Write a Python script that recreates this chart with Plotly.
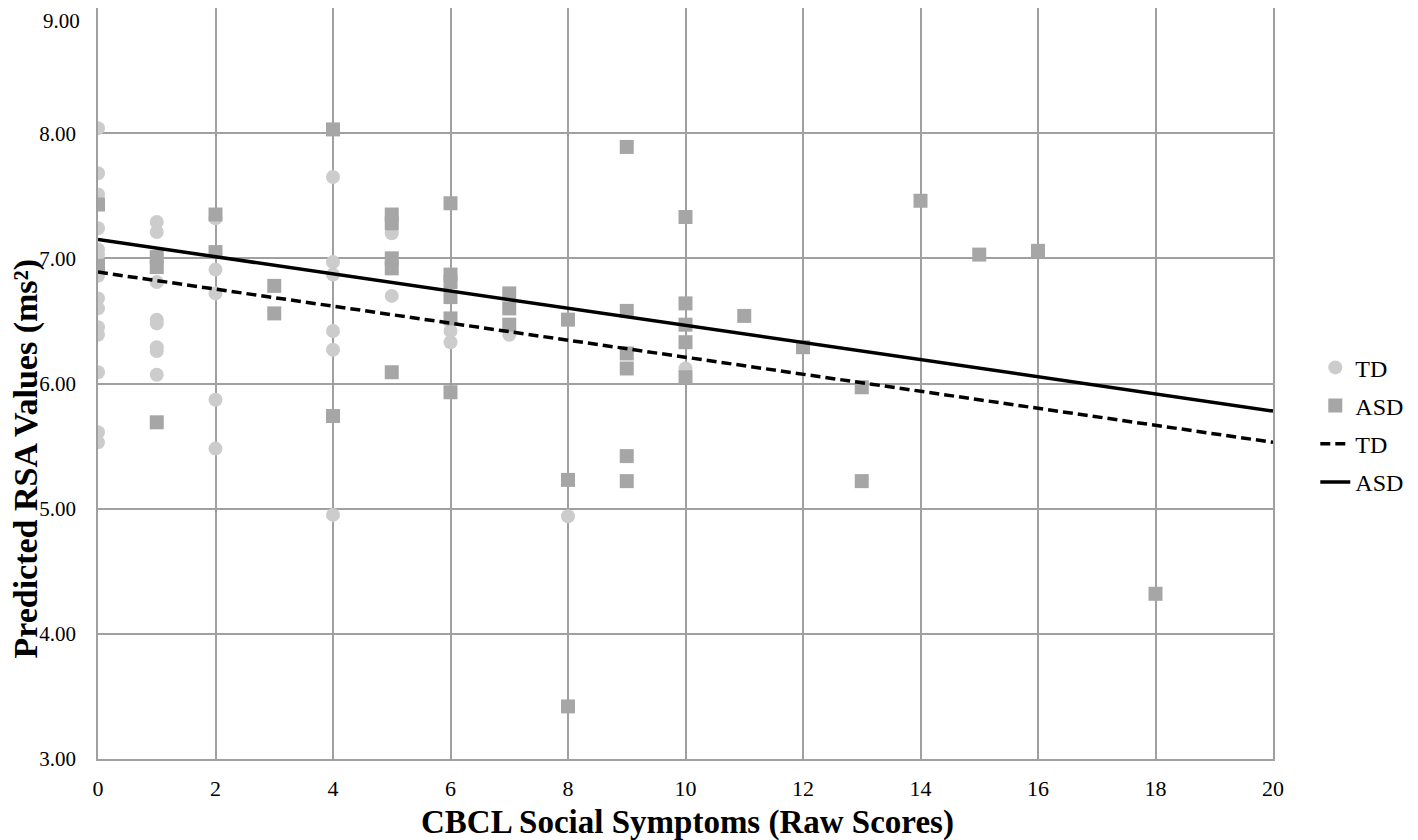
import plotly.graph_objects as go

# ---- data ----
td_x = [0]*14 + [1]*8 + [2]*5 + [4]*6 + [5]*2 + [6]*2 + [7] + [8] + [10]
td_y = [8.04, 7.68, 7.51, 7.24, 7.07, 7.03, 6.86, 6.68, 6.60, 6.45, 6.39, 6.09, 5.61, 5.53,
        7.29, 7.21, 6.81, 6.51, 6.48, 6.29, 6.26, 6.07,
        7.32, 6.91, 6.72, 5.87, 5.48,
        7.65, 6.97, 6.87, 6.42, 6.27, 4.95,
        7.20, 6.70,
        6.42, 6.33,
        6.39,
        4.94,
        6.12]

asd_x = ([0]*2 + [1]*3 + [2]*2 + [3]*2 + [4]*2 + [5]*5 + [6]*6 + [7]*3 + [8]*3 +
         [9]*6 + [10]*5 + [11] + [12] + [13]*2 + [14] + [15] + [16] + [18])
asd_y = [7.43, 6.94,
         7.01, 6.93, 5.69,
         7.35, 7.05,
         6.78, 6.56,
         8.03, 5.74,
         7.35, 7.28, 7.00, 6.92, 6.09,
         7.44, 6.87, 6.81, 6.69, 6.52, 5.93,
         6.72, 6.60, 6.47,
         6.51, 5.23, 3.42,
         7.89, 6.58, 6.24, 6.12, 5.42, 5.22,
         7.33, 6.64, 6.47, 6.33, 6.05,
         6.54,
         6.29,
         5.97, 5.22,
         7.46,
         7.03,
         7.06,
         4.32]

fit_x = [0, 20]
td_fit_y = [6.89, 5.53]
asd_fit_y = [7.15, 5.78]

x_ticks = list(range(0, 21, 2))
y_ticks = [3, 4, 5, 6, 7, 8, 9]
y_tick_labels = ["3.00", "4.00", "5.00", "6.00", "7.00", "8.00", "9.00"]

x_title = "<b>CBCL Social Symptoms (Raw Scores)</b>"
y_title = "<b>Predicted RSA Values (ms²)</b>"

FONT = "Liberation Serif, Times New Roman, serif"
GRID = "#a0a0a0"

fig = go.Figure()
fig.add_trace(go.Scatter(x=td_x, y=td_y, mode="markers", name="TD", legendgroup="a",
                         marker=dict(symbol="circle", size=14, color="#cccccc", line=dict(width=0))))
fig.add_trace(go.Scatter(x=asd_x, y=asd_y, mode="markers", name="ASD", legendgroup="b",
                         marker=dict(symbol="square", size=14, color="#a6a6a6", line=dict(width=0))))
fig.add_trace(go.Scatter(x=fit_x, y=td_fit_y, mode="lines", name="TD", legendgroup="c",
                         line=dict(color="black", width=3.5, dash="10px,5px")))
fig.add_trace(go.Scatter(x=fit_x, y=asd_fit_y, mode="lines", name="ASD", legendgroup="d",
                         line=dict(color="black", width=3.5)))

# the top tick label would be clipped at the page edge, so it is drawn as an annotation
shown_ticktext = y_tick_labels[:-1] + [""]

fig.update_layout(
    width=1410, height=832,
    margin=dict(l=90, r=145, t=0, b=81, autoexpand=False),
    paper_bgcolor="white", plot_bgcolor="white",
    font=dict(family=FONT, color="black", size=21),
    showlegend=True,
    legend=dict(x=1.036, xanchor="left", y=0.445, yanchor="middle",
                font=dict(family=FONT, size=24, color="black"),
                itemwidth=30,
                traceorder="grouped", tracegroupgap=4, bgcolor="rgba(0,0,0,0)"),
    xaxis=dict(range=[0, 20], tickvals=x_ticks, ticktext=[str(v) for v in x_ticks],
               showgrid=True, gridcolor=GRID, gridwidth=1.5,
               showline=True, linecolor=GRID, linewidth=1.5, mirror=True,
               zeroline=False, ticks="", ticklabelstandoff=9, automargin=False,
               tickfont=dict(family=FONT, size=22)),
    yaxis=dict(range=[3, 9], tickvals=y_ticks, ticktext=shown_ticktext,
               showgrid=True, gridcolor=GRID, gridwidth=1.5,
               showline=True, linecolor=GRID, linewidth=1.5, mirror=True,
               zeroline=False, ticks="", ticklabelstandoff=16, automargin=False,
               tickfont=dict(family=FONT, size=21)),
    annotations=[
        dict(text=x_title, xref="paper", yref="paper", x=0.502, y=-0.0839,
             xanchor="center", yanchor="middle", showarrow=False,
             font=dict(family=FONT, size=33, color="black")),
        dict(text=y_title, xref="paper", yref="paper", x=-0.0613, y=0.40,
             xanchor="center", yanchor="middle", showarrow=False, textangle=-90,
             font=dict(family=FONT, size=34, color="black")),
        dict(text=y_tick_labels[-1], xref="paper", yref="y", x=-0.0136, y=y_ticks[-1],
             xanchor="right", yanchor="top", showarrow=False, yshift=1,
             font=dict(family=FONT, size=21, color="black")),
    ],
)

fig.write_html("out.html")
